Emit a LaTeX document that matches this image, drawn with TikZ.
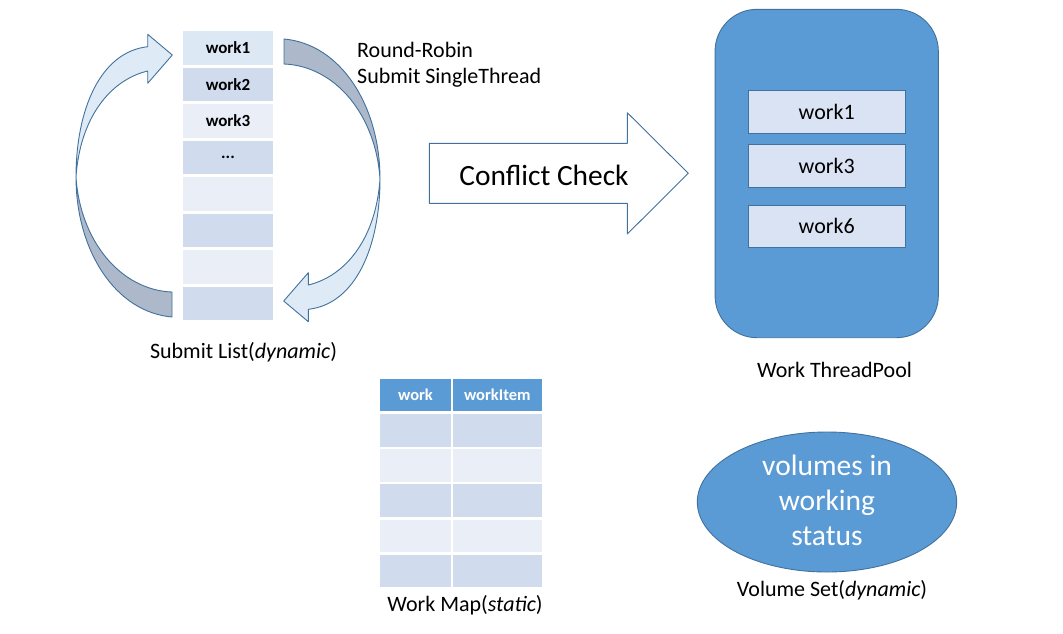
\documentclass[tikz,border=0pt]{standalone}
\usepackage{fontspec}
\setmainfont{Carlito}
\usetikzlibrary{shapes.geometric}
\definecolor{edgec}{HTML}{41719C}
\definecolor{accent}{HTML}{5B9BD5}
\definecolor{frontc}{HTML}{DEEBF7}
\definecolor{backc}{HTML}{ADB9CA}
\definecolor{rowA}{HTML}{D0DCEE}
\definecolor{rowB}{HTML}{E9EEF7}
\definecolor{rowT}{HTML}{DDE8F5}
\definecolor{poolbox}{HTML}{DAE3F3}
\begin{document}
\begin{tikzpicture}[x=1pt,y=-1pt,
  cell/.style={rectangle, inner sep=0pt, minimum width=90pt, minimum height=33.5pt,
    font=\fontsize{17pt}{19pt}\selectfont\bfseries},
  arrowline/.style={draw=edgec, line width=0.9pt, line join=round},
  poolitem/.style={rectangle, draw=edgec, line width=0.8pt, fill=poolbox, inner sep=0pt,
    minimum width=156.7pt, minimum height=42.7pt, font=\fontsize{22pt}{25pt}\selectfont},
  mapcell/.style={rectangle, inner sep=0pt, minimum height=32.5pt},
  maphead/.style={rectangle, inner sep=0pt, minimum height=31.7pt, fill=accent,
    text=white, font=\fontsize{16.5pt}{19pt}\selectfont\bfseries},
  caption/.style={font=\fontsize{22pt}{26pt}\selectfont, inner sep=0pt}]
\useasboundingbox (0,0) rectangle (1063,633);

% ---------- Submit list ----------
\node[cell, fill=rowT] (s1) at (228,48) {work1};
\node[cell, fill=rowA] (s2) at (228,84.5) {work2};
\node[cell, fill=rowB] (s3) at (228,121) {work3};
\node[cell, fill=rowA] (s4) at (228,157.5) {...};
\node[cell, fill=rowB] (s5) at (228,194) {};
\node[cell, fill=rowA] (s6) at (228,230.5) {};
\node[cell, fill=rowB] (s7) at (228,267) {};
\node[cell, fill=rowA] (s8) at (228,303.5) {};

% ---------- circular arrows ----------
\newcommand{\circarrow}{%
  \draw[arrowline, fill=backc] (76,177) .. controls (76,250) and (115,312) .. (172,317)
     -- (172,292) .. controls (120,290) and (80,240) .. (76,177) -- cycle;
  \draw[arrowline, fill=frontc] (147.7,46.7) -- (147.7,34.3) -- (172.3,55) -- (147.7,83.3)
     -- (147.7,71) .. controls (110,80) and (80,118) .. (76,177)
     .. controls (76,110) and (100,52) .. (147.7,46.7) -- cycle;}
\circarrow
\begin{scope}[rotate around={180:(228,178)}]
\circarrow
\end{scope}

\node[caption, anchor=west, align=left, font=\fontsize{22pt}{26pt}\selectfont] (rr) at (357,64.5)
  {Round-Robin\\Submit SingleThread};
\node[caption] (slcap) at (243.5,352) {Submit List(\textit{dynamic})};

% ---------- Conflict check arrow ----------
\draw[arrowline, fill=white] (429.3,143.3) -- (627.3,143.3) -- (627.3,112.7) -- (688.3,173.3)
  -- (627.3,234) -- (627.3,203.3) -- (429.3,203.3) -- cycle;
\node[font=\fontsize{29.4pt}{32pt}\selectfont, inner sep=0pt] (cc) at (544,175) {Conflict Check};

% ---------- Thread pool ----------
\node[rectangle, draw=edgec, line width=0.9pt, fill=accent, rounded corners=42pt,
  minimum width=223.3pt, minimum height=328.4pt, inner sep=0pt] (pool) at (826.7,173.5) {};
\node[poolitem] (p1) at (826.7,112) {work1};
\node[poolitem] (p3) at (826.7,165.8) {work3};
\node[poolitem] (p6) at (826.7,226.3) {work6};
\node[caption] (poolcap) at (834.5,370) {Work ThreadPool};

% ---------- Volume set ----------
\node[ellipse, draw=edgec, line width=0.9pt, fill=accent, minimum width=259.4pt,
  minimum height=140pt, inner sep=0pt] (vol) at (827,502) {};
\node[text=white, align=center, font=\fontsize{29.5pt}{35pt}\selectfont, inner sep=0pt]
  (voltext) at (827,500) {volumes in\\working\\status};
\node[caption] (volcap) at (832,590) {Volume Set(\textit{dynamic})};

% ---------- Work map ----------
\node[maphead, minimum width=71pt] (h1) at (415.5,394.8) {work};
\node[maphead, minimum width=88.7pt] (h2) at (497.3,394.8) {workItem};
\foreach \i/\y/\c in {1/430.5/rowA, 2/465.3/rowB, 3/500.3/rowA, 4/535.8/rowB, 5/571.2/rowA} {
  \node[mapcell, fill=\c, minimum width=71pt] (m\i a) at (415.5,\y) {};
  \node[mapcell, fill=\c, minimum width=88.7pt] (m\i b) at (497.3,\y) {};
}
\node[caption] (mapcap) at (465,605) {Work Map(\textit{static})};
\end{tikzpicture}
\end{document}
